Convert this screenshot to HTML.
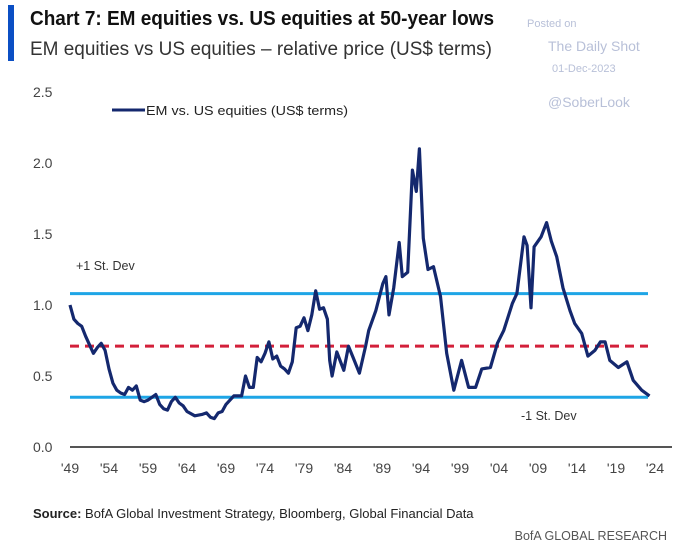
<!DOCTYPE html>
<html><head><meta charset="utf-8"><style>
body{margin:0;background:#fff;width:680px;height:550px;overflow:hidden;font-family:"Liberation Sans",sans-serif}
</style></head><body>
<svg id="chart" width="680" height="550" xmlns="http://www.w3.org/2000/svg" font-family="Liberation Sans, sans-serif">
<rect x="8" y="5" width="6" height="56" fill="#0b4fc4"/>
<text x="30" y="25" font-size="20" font-weight="bold" fill="#111" textLength="464" lengthAdjust="spacingAndGlyphs">Chart 7: EM equities vs. US equities at 50-year lows</text>
<text x="30" y="55" font-size="19" fill="#333" textLength="462" lengthAdjust="spacingAndGlyphs">EM equities vs US equities – relative price (US$ terms)</text>
<text x="527" y="27" font-size="11" fill="#b8c0d8">Posted on</text>
<text x="548" y="51" font-size="14" fill="#b8c0d8">The Daily Shot</text>
<text x="552" y="72" font-size="11" fill="#b8c0d8">01-Dec-2023</text>
<text x="548" y="107" font-size="14" fill="#b8c0d8">@SoberLook</text>
<g id="axes"></g>
<g id="plot"></g>
<line x1="112" y1="110" x2="145" y2="110" stroke="#14286e" stroke-width="3"/>
<text x="146" y="115" font-size="13" fill="#222" textLength="202" lengthAdjust="spacingAndGlyphs">EM vs. US equities (US$ terms)</text>
<text x="76" y="270" font-size="12.5" fill="#333">+1 St. Dev</text>
<text x="521" y="420" font-size="12.5" fill="#333">-1 St. Dev</text>
<text x="33" y="518" font-size="13" fill="#222"><tspan font-weight="bold">Source:</tspan> BofA Global Investment Strategy, Bloomberg, Global Financial Data</text>
<text x="667" y="540" font-size="12.5" fill="#555" text-anchor="end">BofA GLOBAL RESEARCH</text>
</svg>
<script>
const years=[1949,1949.5,1950,1950.5,1951,1951.5,1952,1952.5,1953,1953.5,1954,1954.5,1955,1955.5,1956,1956.5,1957,1957.5,1958,1958.5,1959,1959.5,1960,1960.5,1961,1961.5,1962,1962.5,1963,1963.5,1964,1965,1966,1966.5,1967,1967.5,1968,1968.5,1969,1970,1971,1971.5,1972,1972.5,1973,1973.5,1974,1974.5,1975,1975.5,1976,1976.5,1977,1977.5,1978,1978.5,1979,1979.5,1980,1980.5,1981,1981.5,1982,1982.3,1982.6,1983.2,1984.1,1984.7,1985.3,1986.1,1986.9,1987.3,1988.2,1989.1,1989.5,1989.9,1990.5,1991.2,1991.6,1992.3,1992.9,1993.4,1993.8,1994.3,1994.9,1995.6,1996.5,1997.3,1998.2,1999.2,2000.1,2001,2001.8,2002.9,2003.8,2004.6,2005.7,2006.3,2007.2,2007.6,2008.1,2008.5,2009.4,2010.1,2010.7,2011.4,2012.2,2013.1,2013.7,2014.6,2015.4,2016.3,2017,2017.6,2018.2,2019.3,2020.4,2021.2,2022.3,2023.3];
const values=[1.0,0.9,0.87,0.85,0.78,0.72,0.66,0.7,0.73,0.68,0.55,0.45,0.4,0.38,0.37,0.42,0.4,0.43,0.33,0.32,0.33,0.35,0.37,0.3,0.27,0.26,0.32,0.35,0.31,0.29,0.25,0.22,0.23,0.24,0.21,0.2,0.24,0.25,0.3,0.36,0.36,0.5,0.42,0.42,0.63,0.6,0.66,0.74,0.62,0.64,0.57,0.55,0.52,0.6,0.84,0.85,0.91,0.82,0.93,1.1,0.97,0.98,0.9,0.61,0.5,0.67,0.54,0.71,0.63,0.52,0.71,0.82,0.96,1.15,1.2,0.93,1.12,1.44,1.2,1.23,1.95,1.8,2.1,1.47,1.25,1.27,1.06,0.66,0.4,0.61,0.42,0.42,0.55,0.56,0.73,0.82,1.01,1.08,1.48,1.42,0.98,1.41,1.48,1.58,1.45,1.34,1.12,0.96,0.87,0.8,0.64,0.68,0.74,0.74,0.61,0.56,0.6,0.47,0.4,0.36];
const yTicks=[0,0.5,1.0,1.5,2.0,2.5];
const yTickLabels=["0.0","0.5","1.0","1.5","2.0","2.5"];
const xTicks=[1949,1954,1959,1964,1969,1974,1979,1984,1989,1994,1999,2004,2009,2014,2019,2024];
const xTickLabels=["'49","'54","'59","'64","'69","'74","'79","'84","'89","'94","'99","'04","'09","'14","'19","'24"];
const refLevels=[1.08,0.71,0.35];
const refNames=["plus-1-sd-line","mean-line","minus-1-sd-line"];
const NS="http://www.w3.org/2000/svg";
const xs=y=>70+(y-1949)*7.8;
const ys=v=>447-v*142;
const axes=document.getElementById('axes'),plot=document.getElementById('plot');
function mk(tag,attrs,parent){const e=document.createElementNS(NS,tag);for(const k in attrs)e.setAttribute(k,attrs[k]);parent.appendChild(e);return e;}
yTicks.forEach((t,i)=>{const e=mk('text',{x:33,y:ys(t)+5,'font-size':14,fill:'#444'},axes);e.textContent=yTickLabels[i];

});
xTicks.forEach((t,i)=>{const e=mk('text',{x:xs(t),y:473,'font-size':14,fill:'#444','text-anchor':'middle'},axes);e.textContent=xTickLabels[i];

});
const ax=mk('line',{x1:70,x2:672,y1:ys(0),y2:ys(0),stroke:'#555','stroke-width':2},axes);


refLevels.forEach((v,i)=>{const a=i===1?{stroke:'#d3203a','stroke-width':3,'stroke-dasharray':'9 6'}:{stroke:'#1ea5e6','stroke-width':3};
const l=mk('line',Object.assign({x1:70,x2:648,y1:ys(v),y2:ys(v)},a),plot);

});
const p=mk('path',{d:years.map((y,i)=>(i?'L':'M')+xs(y).toFixed(1)+' '+ys(values[i]).toFixed(1)).join(''),fill:'none',stroke:'#14286e','stroke-width':3.2,'stroke-linejoin':'round'},plot);


</script>
</body></html>
